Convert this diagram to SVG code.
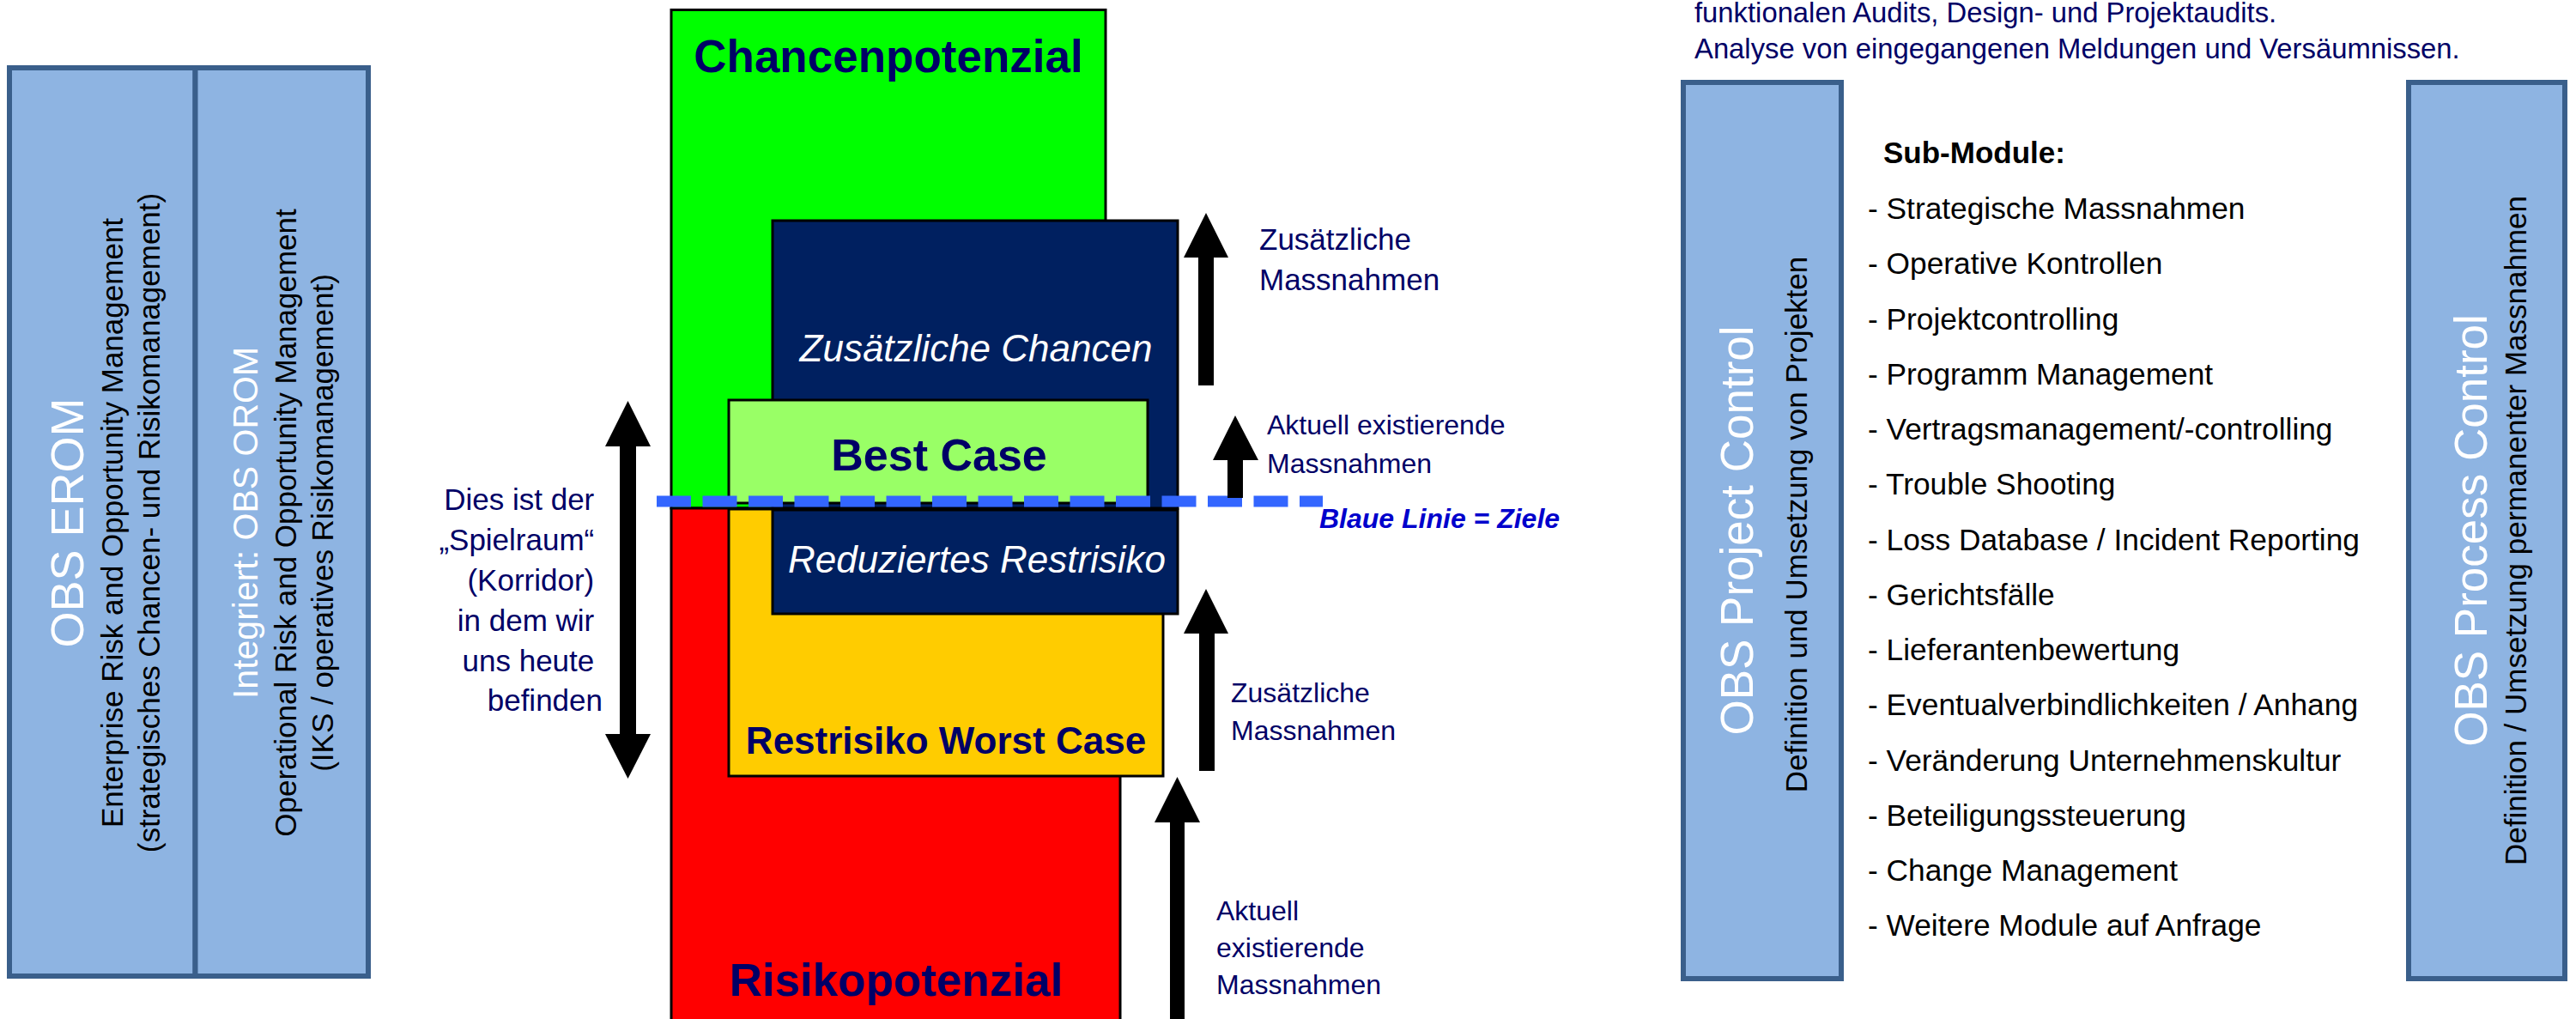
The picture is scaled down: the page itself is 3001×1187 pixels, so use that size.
<svg xmlns="http://www.w3.org/2000/svg" width="3001" height="1187" viewBox="0 0 3001 1187">
<style>
text{font-family:"Liberation Sans",Arial,sans-serif}
.panel{fill:#8eb4e2;stroke:#3a5f8b;stroke-width:6}
.big{fill:#ffffff;font-size:53px;text-anchor:middle}
.sub{fill:#000000;font-size:35px;text-anchor:middle}
.blk{stroke:#000;stroke-width:3}
.navyt{fill:#000066}
.lbl{fill:#000066;font-size:32px}
.head{font-weight:bold;fill:#000066;text-anchor:middle}
.ital{font-style:italic;fill:#ffffff;font-size:44px;text-anchor:middle}
.item{fill:#000;font-size:35px}
.arrow{fill:#000}
</style>
<rect width="3001" height="1187" fill="#ffffff"/>

<g id="erom">
<rect class="panel" x="11" y="79" width="216.5" height="1058"/>
<text class="big" style="font-size:54px" transform="translate(97,609) rotate(-90)">OBS EROM</text>
<text class="sub" transform="translate(143,609) rotate(-90)">Enterprise Risk and Opportunity Management</text>
<text class="sub" transform="translate(186,609) rotate(-90)">(strategisches Chancen- und Risikomanagement)</text>
</g>
<g id="orom">
<rect class="panel" x="227.5" y="79" width="201.5" height="1058"/>
<text class="big" style="font-size:41px" transform="translate(300,609) rotate(-90)">Integriert: OBS OROM</text>
<text class="sub" transform="translate(345,609) rotate(-90)">Operational Risk and Opportunity Management</text>
<text class="sub" transform="translate(388,609) rotate(-90)">(IKS / operatives Risikomanagement)</text>
</g>

<g id="spielraum">
<text class="navyt" style="font-size:35px" text-anchor="end">
<tspan x="702" y="594">Dies ist der</tspan>
<tspan x="702" y="641">„Spielraum“</tspan>
<tspan x="702" y="688">(Korridor)</tspan>
<tspan x="702" y="735">in dem wir</tspan>
<tspan x="702" y="782">uns heute</tspan>
<tspan x="702" y="828">befinden</tspan>
</text>
</g>

<g id="chancenpotenzial">
<rect class="blk" x="782" y="11.5" width="506" height="580.5" fill="#00ff00"/>
<text class="head" style="font-size:53px" x="1035" y="84">Chancenpotenzial</text>
</g>
<g id="risikopotenzial">
<rect class="blk" x="782" y="592" width="523" height="610" fill="#ff0000"/>
<text class="head" style="font-size:53px" x="1044" y="1160">Risikopotenzial</text>
</g>
<g id="worstcase">
<rect class="blk" x="849" y="593" width="506" height="311" fill="#ffcc00"/>
<text class="head" style="font-size:44px" x="1102" y="878">Restrisiko Worst Case</text>
</g>
<g id="zusatzchancen">
<rect class="blk" x="900" y="257" width="472" height="335" fill="#002060"/>
<text class="ital" x="1137" y="421">Zusätzliche Chancen</text>
</g>
<g id="bestcase">
<rect class="blk" x="849" y="466" width="488" height="120" fill="#99ff66"/>
<text class="head" style="font-size:52px" x="1094" y="548">Best Case</text>
</g>
<g id="reduziert">
<rect class="blk" x="900" y="594" width="472" height="121" fill="#002060"/>
<text class="ital" x="1138" y="667">Reduziertes Restrisiko</text>
</g>

<g id="connectors">
<line x1="765" y1="584" x2="1541" y2="584" stroke="#3366ff" stroke-width="13" stroke-dasharray="40 13.5"/>
<polygon class="arrow" points="1405,248 1431,300 1414,300 1414,449 1396,449 1396,300 1379,300"/>
<polygon class="arrow" points="1439,484 1466,536 1448,536 1448,580 1430,580 1430,536 1413,536"/>
<polygon class="arrow" points="1405,686 1431,738 1415,738 1415,898 1397,898 1397,738 1379,738"/>
<polygon class="arrow" points="1371.5,905 1398,958 1380,958 1380,1190 1363,1190 1363,958 1345,958"/>
<polygon class="arrow" points="731.5,467 758,520 741,520 741,855 722,855 722,520 705,520"/>
<polygon class="arrow" points="731.5,907 758,855 705,855"/>
</g>

<g id="labels">
<text class="navyt" style="font-size:35px"><tspan x="1467" y="291">Zusätzliche</tspan><tspan x="1467" y="338">Massnahmen</tspan></text>
<text class="lbl"><tspan x="1476" y="506">Aktuell existierende</tspan><tspan x="1476" y="551">Massnahmen</tspan></text>
<text style="font-size:32px;font-weight:bold;font-style:italic;fill:#0000cc" x="1537" y="615">Blaue Linie = Ziele</text>
<text class="lbl"><tspan x="1434" y="818">Zusätzliche</tspan><tspan x="1434" y="862">Massnahmen</tspan></text>
<text class="lbl"><tspan x="1417" y="1072">Aktuell</tspan><tspan x="1417" y="1115">existierende</tspan><tspan x="1417" y="1158">Massnahmen</tspan></text>
</g>

<g id="toptext">
<text class="navyt" style="font-size:32.8px"><tspan x="1974" y="26">funktionalen Audits, Design- und Projektaudits.</tspan><tspan x="1974" y="68">Analyse von eingegangenen Meldungen und Versäumnissen.</tspan></text>
</g>

<g id="projectcontrol">
<rect class="panel" x="1961" y="96" width="184" height="1044"/>
<text class="big" transform="translate(2042,618) rotate(-90)">OBS Project Control</text>
<text class="sub" transform="translate(2105,611) rotate(-90)">Definition und Umsetzung von Projekten</text>
</g>

<g id="submodule">
<text style="font-size:35px;font-weight:bold;fill:#000" x="2194" y="190">Sub-Module:</text>
<text class="item" style="font-size:35.3px">
<tspan x="2176" y="255">- Strategische Massnahmen</tspan>
<tspan x="2176" y="319">- Operative Kontrollen</tspan>
<tspan x="2176" y="384">- Projektcontrolling</tspan>
<tspan x="2176" y="448">- Programm Management</tspan>
<tspan x="2176" y="512">- Vertragsmanagement/-controlling</tspan>
<tspan x="2176" y="576">- Trouble Shooting</tspan>
<tspan x="2176" y="641">- Loss Database / Incident Reporting</tspan>
<tspan x="2176" y="705">- Gerichtsfälle</tspan>
<tspan x="2176" y="769">- Lieferantenbewertung</tspan>
<tspan x="2176" y="833">- Eventualverbindlichkeiten / Anhang</tspan>
<tspan x="2176" y="898">- Veränderung Unternehmenskultur</tspan>
<tspan x="2176" y="962">- Beteiligungssteuerung</tspan>
<tspan x="2176" y="1026">- Change Management</tspan>
<tspan x="2176" y="1090">- Weitere Module auf Anfrage</tspan>
</text>
</g>

<g id="processcontrol">
<rect class="panel" x="2806" y="96" width="182" height="1044"/>
<text class="big" transform="translate(2897,618) rotate(-90)">OBS Process Control</text>
<text class="sub" transform="translate(2943,618) rotate(-90)">Definition / Umsetzung permanenter Massnahmen</text>
</g>
</svg>
